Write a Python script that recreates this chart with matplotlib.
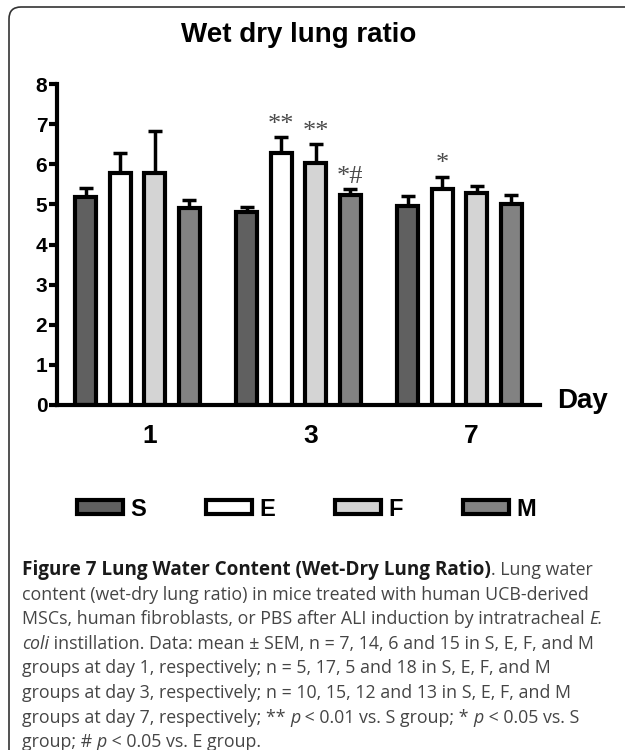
#coding:utf-8

# wet/dry lung ratio bar chart, day 1/3/7, groups S E F M

import numpy as np
import matplotlib
matplotlib.use("Agg")
import matplotlib.pyplot as plt
from matplotlib.patches import FancyBboxPatch
from matplotlib.transforms import IdentityTransform, ScaledTranslation

days = ['1', '3', '7']
groups = ['S', 'E', 'F', 'M']

S_mean = [5.19, 4.80, 4.96]
S_sem = [0.21, 0.13, 0.25]
E_mean = [5.78, 6.28, 5.38]
E_sem = [0.50, 0.40, 0.31]
F_mean = [5.78, 6.03, 5.28]
F_sem = [1.05, 0.47, 0.19]
M_mean = [4.92, 5.24, 5.00]
M_sem = [0.18, 0.14, 0.24]

S_sig = ['', '', '']
E_sig = ['', '**', '*']
F_sig = ['', '**', '']
M_sig = ['', '*#', '']

means = [S_mean, E_mean, F_mean, M_mean]
sems = [S_sem, E_sem, F_sem, M_sem]
sigs = [S_sig, E_sig, F_sig, M_sig]
colors = ['#606060', 'white', '#d4d4d4', '#828282']

sans = ['Liberation Sans', 'DejaVu Sans']

fig = plt.figure(figsize=(6.25, 7.5), dpi=100)
ax = fig.add_axes([57/625, 1-405/750, (540-57)/625, (405-84)/750])

x = np.arange(len(days))
pitch = 0.215
width = 0.131
handles = []
for i, g in enumerate(groups):
    xi = x + (i - 1.5) * pitch
    b = ax.bar(xi, means[i], width, color=colors[i], edgecolor='black',
               linewidth=3, label=g, zorder=2)
    handles.append(b)
    ax.errorbar(xi, means[i], yerr=[np.zeros(len(days)), sems[i]], fmt='none',
                ecolor='black', elinewidth=2.5, capsize=5, capthick=2.5, zorder=1)
    for j in range(len(days)):
        if sigs[i][j]:
            ax.annotate(sigs[i][j], (xi[j], means[i][j] + sems[i][j]),
                        xytext=(0, 1), textcoords='offset points',
                        ha='center', va='bottom', fontsize=19,
                        family=['Liberation Serif', 'DejaVu Serif'], color='#4a4a4a')

ax.set_xlim(-0.5, 2.5)
ax.set_ylim(0, 8)
ax.set_yticks(range(0, 9))
ax.set_xticks(x)
ax.set_xticklabels(days)
for s in ['top', 'right']:
    ax.spines[s].set_visible(False)
for s in ['left', 'bottom']:
    ax.spines[s].set_linewidth(3)
ax.tick_params(axis='y', length=6, width=3, pad=1)
ax.tick_params(axis='x', length=0, pad=14)
for lab in ax.get_yticklabels():
    lab.set_fontsize(15)
    lab.set_fontweight('bold')
    lab.set_family(sans)
off = ScaledTranslation(12/100, 0, fig.dpi_scale_trans)
for lab in ax.get_xticklabels():
    lab.set_fontsize(19)
    lab.set_fontweight('bold')
    lab.set_family(sans)
    lab.set_transform(lab.get_transform() + off)

fig.text(299/625, 1-35/750, 'Wet dry lung ratio', ha='center', va='center',
         fontsize=20, fontweight='bold', family=sans)
fig.text(557/625, 1-401/750, 'Day', ha='left', va='center',
         fontsize=20, fontweight='bold', family=sans)

leg = fig.legend(handles=handles, labels=groups, loc='center left',
                 bbox_to_anchor=(77/625, 1-509/750), ncol=4, frameon=False,
                 handlelength=1.95, handleheight=0.5, handletextpad=0.3,
                 columnspacing=2.55, borderpad=0, borderaxespad=0,
                 prop={'family': sans, 'weight': 'bold', 'size': 17})

# rounded frame, open at right and bottom
frame = FancyBboxPatch((9, -60), 800, 750-7+60, boxstyle="round,pad=0,rounding_size=12",
                       transform=IdentityTransform(), fill=False, lw=1.2, ec='#333333')
fig.add_artist(frame)

# caption
cap = [
    [("Figure 7 Lung Water Content (Wet-Dry Lung Ratio)", 'bold', 'normal'),
     (". Lung water", 'normal', 'normal')],
    [("content (wet-dry lung ratio) in mice treated with human UCB-derived", 'normal', 'normal')],
    [("MSCs, human fibroblasts, or PBS after ALI induction by intratracheal ", 'normal', 'normal'),
     ("E.", 'normal', 'italic')],
    [("coli", 'normal', 'italic'),
     (" instillation. Data: mean \u00b1 SEM, n = 7, 14, 6 and 15 in S, E, F, and M", 'normal', 'normal')],
    [("groups at day 1, respectively; n = 5, 17, 5 and 18 in S, E, F, and M", 'normal', 'normal')],
    [("groups at day 3, respectively; n = 10, 15, 12 and 13 in S, E, F, and M", 'normal', 'normal')],
    [("groups at day 7, respectively; ** ", 'normal', 'normal'), ("p", 'normal', 'italic'),
     (" < 0.01 vs. S group; * ", 'normal', 'normal'), ("p", 'normal', 'italic'),
     (" < 0.05 vs. S", 'normal', 'normal')],
    [("group; # ", 'normal', 'normal'), ("p", 'normal', 'italic'),
     (" < 0.05 vs. E group.", 'normal', 'normal')],
]
r = fig.canvas.get_renderer()
y0 = 568
dy = 24.6
for k, line in enumerate(cap):
    xpx = 22
    for txt, w, st in line:
        t = fig.text(xpx/625, 1-(y0 + k*dy)/750, txt, ha='left', va='center_baseline',
                     fontsize=13.6 if w == 'bold' else 12.75, fontweight=w, fontstyle=st,
                     family=['Open Sans', 'DejaVu Sans'],
                     color='#1a1a1a' if w == 'bold' else '#454545')
        xpx += t.get_window_extent(renderer=r).width

fig.savefig('out.png', dpi=100)
